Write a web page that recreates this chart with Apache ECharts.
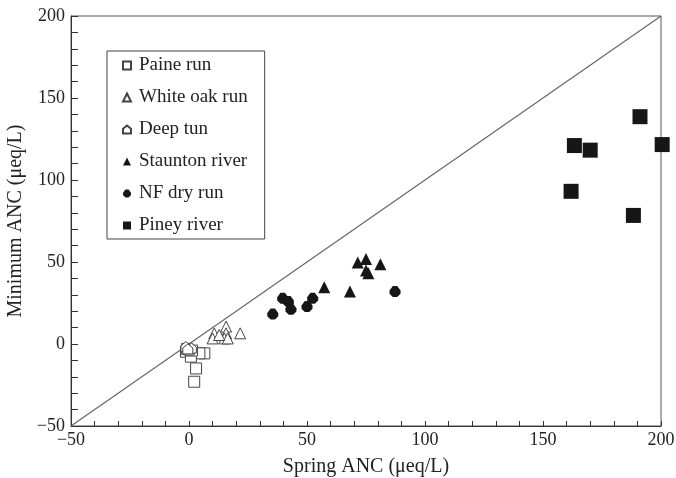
<!DOCTYPE html>
<html>
<head>
<meta charset="utf-8">
<script src="https://cdn.jsdelivr.net/npm/echarts@6/dist/echarts.min.js"></script>
<style>
  html, body { margin: 0; padding: 0; background: #fff; }
  #chart1 { width: 676px; height: 478px; }
</style>
</head>
<body>
<div id="chart1"></div>
<script>
// [spring ANC, minimum ANC]
var paineRun = [[2.2, -23], [3, -14.9], [6.5, -5.7], [4.4, -5.7], [-1.3, -4.7], [0.8, -7.7], [-0.8, -3], [1.3, -4]];
var whiteOakRun = [[10.7, 6.5], [10, 3.4], [15.7, 10.6], [15.7, 6.5], [15, 3.4], [16.4, 3.4], [21.7, 6.5], [12.8, 5.5]];
var deepTun = [[-1.3, -1.6], [0.1, -3.7], [1, -2.5], [-0.5, -3]];
var stauntonRiver = [[75, 51.8], [71.5, 49.7], [81.1, 48.7], [75, 44.8], [76, 43.2], [57.3, 34.6], [68.2, 32]];
var nfDryRun = [[35.5, 18.3], [39.7, 27.9], [42.1, 25.9], [43.2, 21.2], [50, 22.8], [52.4, 27.9], [87.3, 32]];
var pineyRiver = [[191.1, 138.6], [163.3, 121], [170, 118.2], [161.9, 93.1], [188.3, 78.4], [200.5, 121.6]];
var oneToOne = [[-50, -50], [200, 200]];

var legendNames = ['Paine run', 'White oak run', 'Deep tun', 'Staunton river', 'NF dry run', 'Piney river'];

var house = 'path://M0,4 L5,0 L10,4 L10,10 L0,10 Z';
var hexa = 'path://M3,0 L7,0 L10,4 L10,7 L7,10 L3,10 L0,7 L0,4 Z';
var font = '"Liberation Serif", "DejaVu Serif", serif';

var chart = echarts.init(document.getElementById('chart1'));

function openStyle() {
    return { color: '#fff', borderColor: '#444', borderWidth: 1, opacity: 1 };
}
function solidStyle() {
    return { color: '#161616', opacity: 1 };
}
// typographic minus on the tick labels
function minusLabel(v) {
    return String(v).replace('-', '\u2212');
}

var option = {
    backgroundColor: '#fff',
    animation: false,
    textStyle: { fontFamily: font, color: '#222' },
    grid: {
        left: 71, right: 15, top: 16, bottom: 52,
        outerBoundsMode: 'none',
        show: true, borderColor: '#555', borderWidth: 1
    },
    legend: {
        data: legendNames,
        orient: 'vertical',
        left: 107, top: 51,
        padding: [5, 17, 4, 15],
        itemGap: 13,
        itemWidth: 8, itemHeight: 8,
        borderColor: '#444', borderWidth: 1,
        textStyle: { fontFamily: font, fontSize: 19, color: '#222', padding: [0, 0, 0, 3] }
    },
    xAxis: {
        type: 'value',
        min: -50, max: 200, interval: 50,
        name: 'Spring ANC (μeq/L)',
        nameLocation: 'middle',
        nameGap: 31,
        nameTextStyle: { fontFamily: font, fontSize: 20, color: '#222' },
        axisLine: { show: true, onZero: false, lineStyle: { color: '#333' } },
        axisTick: { show: true, inside: true, length: 5, lineStyle: { color: '#333' } },
        minorTick: { show: true, splitNumber: 5, length: 5, lineStyle: { color: '#333' } },
        axisLabel: { fontFamily: font, fontSize: 18, color: '#222', margin: 5, formatter: minusLabel },
        splitLine: { show: false }
    },
    yAxis: {
        type: 'value',
        min: -50, max: 200, interval: 50,
        name: 'Minimum ANC (μeq/L)',
        nameLocation: 'middle',
        nameGap: 41,
        nameTextStyle: { fontFamily: font, fontSize: 20, color: '#222' },
        axisLine: { show: true, onZero: false, lineStyle: { color: '#333' } },
        axisTick: { show: true, inside: true, length: 7, lineStyle: { color: '#333' } },
        minorTick: { show: true, splitNumber: 5, length: 7, lineStyle: { color: '#333' } },
        axisLabel: { fontFamily: font, fontSize: 18, color: '#222', margin: 6, formatter: minusLabel },
        splitLine: { show: false }
    },
    series: [
        {
            type: 'line', data: oneToOne, symbol: 'none', silent: true,
            lineStyle: { color: '#666', width: 1.2 }, z: 1
        },
        { name: 'Paine run', type: 'scatter', symbol: 'rect', symbolSize: 11, data: paineRun, itemStyle: openStyle() },
        { name: 'White oak run', type: 'scatter', symbol: 'triangle', symbolSize: 11, data: whiteOakRun, itemStyle: openStyle() },
        { name: 'Deep tun', type: 'scatter', symbol: house, symbolSize: 10, data: deepTun, itemStyle: openStyle() },
        { name: 'Staunton river', type: 'scatter', symbol: 'triangle', symbolSize: 12, data: stauntonRiver, itemStyle: solidStyle() },
        { name: 'NF dry run', type: 'scatter', symbol: hexa, symbolSize: 11, data: nfDryRun, itemStyle: solidStyle() },
        { name: 'Piney river', type: 'scatter', symbol: 'rect', symbolSize: 15, data: pineyRiver, clip: false, itemStyle: solidStyle() }
    ]
};

chart.setOption(option);
</script>
</body>
</html>
